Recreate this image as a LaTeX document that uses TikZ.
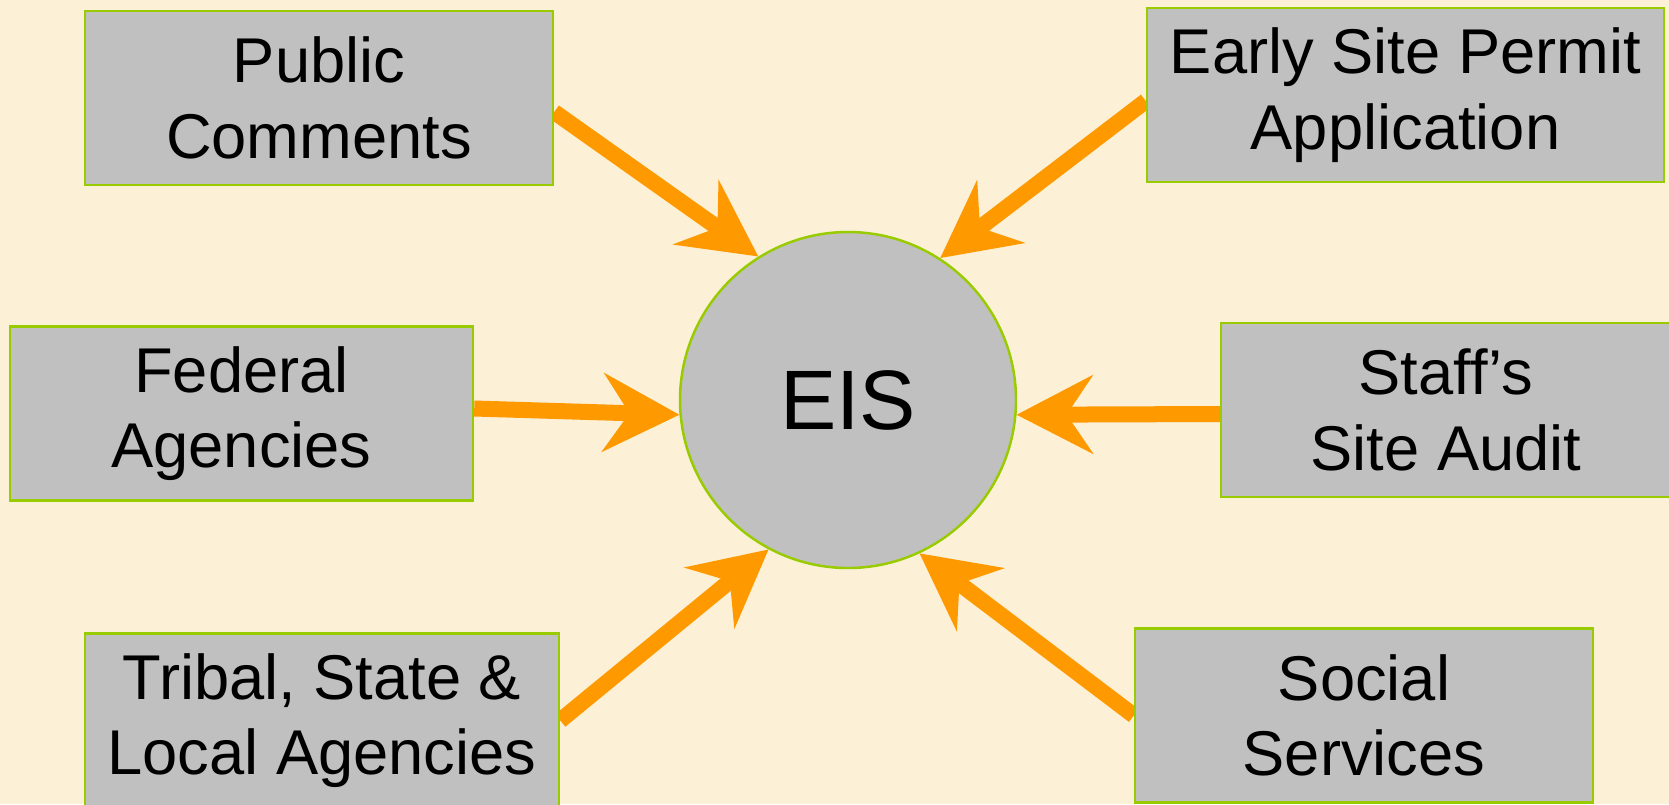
\documentclass[tikz,border=0pt]{standalone}
\usepackage{fontspec}
\setmainfont{Liberation Sans}
\usetikzlibrary{arrows.meta}
\definecolor{paper}{HTML}{FCF0D6}
\definecolor{boxgray}{HTML}{C0C0C0}
\definecolor{rimgreen}{HTML}{99CC00}
\definecolor{feedorange}{HTML}{FF9900}
\pgfdeclarelayer{under}
\pgfsetlayers{under,main}

\begin{document}
\begin{tikzpicture}
  \tikzstyle{Source}=[draw=rimgreen, line width=0.7pt, fill=boxgray, inner sep=0pt, align=center, minimum height=1.74cm, font=\fontsize{18}{21.5}\selectfont]
  \tikzstyle{Hub}=[circle, draw=rimgreen, line width=0.7pt, fill=boxgray, inner sep=0pt, minimum size=3.36cm, font=\fontsize{24}{28}\selectfont]
  \tikzstyle{Feed}=[draw=feedorange, line width=0.16cm, -{Stealth[length=0.76cm,width=0.78cm,inset=0.26cm]}]
  \useasboundingbox (0,0) rectangle (16.69,8.04);
  \node[Hub] (eis) at (8.48,4.04) {EIS};
  \node[Source, minimum width=4.68cm] (pub) at (3.19,7.06) {Public\\Comments};
  \node[Source, minimum width=5.17cm] (esp) at (14.055,7.09) {Early Site Permit\\Application};
  \node[Source, minimum width=4.63cm] (fed) at (2.415,3.905) {Federal\\Agencies};
  \node[Source, minimum width=4.50cm] (staff) at (14.46,3.94) {Staff’s\\Site Audit};
  \node[Source, minimum width=4.74cm] (trib) at (3.22,0.835) {Tribal, State \&\\Local Agencies};
  \node[Source, minimum width=4.58cm] (soc) at (13.64,0.885) {Social\\Services};
  \begin{pgfonlayer}{under}
    \fill[paper] (0,0) rectangle (16.69,8.04);
    \draw[Feed] ([yshift=-0.14cm]pub.east) -- (eis.122);
    \draw[Feed] ([yshift=-0.06cm]esp.west) -- (eis.57);
    \draw[Feed] ([yshift=0.05cm]fed.east) -- (eis.185);
    \draw[Feed] ([yshift=-0.04cm]staff.west) -- (eis.355);
    \draw[Feed] (trib.east) -- (eis.242);
    \draw[Feed] (soc.west) -- (eis.295);
  \end{pgfonlayer}
\end{tikzpicture}
\end{document}
